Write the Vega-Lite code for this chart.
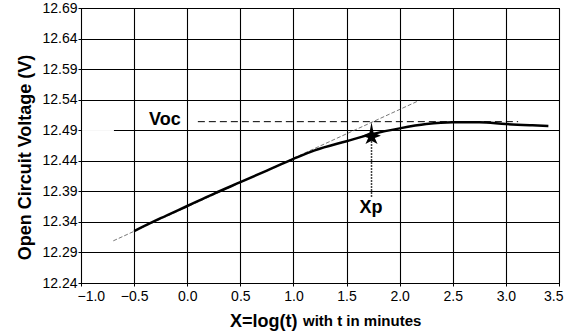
{
  "$schema": "https://vega.github.io/schema/vega-lite/v6.json",
  "width": 478,
  "height": 275,
  "autosize": "none",
  "padding": {"left": 81, "top": 8, "right": 6, "bottom": 51},
  "background": "white",
  "config": {
    "view": {"stroke": "black", "strokeWidth": 1},
    "font": "Liberation Sans",
    "axis": {
      "labelFont": "Liberation Sans",
      "titleFont": "Liberation Sans",
      "labelColor": "black",
      "titleColor": "black",
      "domainColor": "black",
      "tickColor": "black",
      "gridColor": "black",
      "gridOpacity": 1,
      "gridWidth": 1.1,
      "tickSize": 3,
      "labelFontSize": 14,
      "labelFontWeight": "normal"
    }
  },
  "datasets": {
    "curve": [
      {"x": -0.5, "y": 12.325},
      {"x": -0.25, "y": 12.346},
      {"x": 0.0, "y": 12.366},
      {"x": 0.25, "y": 12.386},
      {"x": 0.5, "y": 12.405},
      {"x": 0.75, "y": 12.424},
      {"x": 1.0, "y": 12.443},
      {"x": 1.2, "y": 12.457},
      {"x": 1.5, "y": 12.472},
      {"x": 1.75, "y": 12.484},
      {"x": 2.0, "y": 12.493},
      {"x": 2.25, "y": 12.5},
      {"x": 2.5, "y": 12.503},
      {"x": 2.75, "y": 12.503},
      {"x": 3.0, "y": 12.5},
      {"x": 3.25, "y": 12.498},
      {"x": 3.4, "y": 12.497}
    ],
    "tangent": [
      {"x": -0.696, "y": 12.309},
      {"x": 2.176, "y": 12.538}
    ],
    "voc": [{"x": 0.1, "x2": 3.115, "y": 12.504}],
    "drop": [{"x": 1.735, "y": 12.381, "y2": 12.49}],
    "star": [{"x": 1.735, "y": 12.4855}],
    "mask": [{"x": -0.99, "x2": -0.69, "y": 12.49}],
    "labels": [
      {"x": -0.21, "y": 12.4985, "text": "Voc"},
      {"x": 1.73, "y": 12.354, "text": "Xp"}
    ],
    "subtitle": [{"x": 1.09, "y": 12.1696, "text": "with t in minutes"}]
  },
  "encoding": {
    "x": {
      "field": "x",
      "type": "quantitative",
      "scale": {"domain": [-1, 3.5], "nice": false, "zero": false},
      "axis": {
        "values": [-1, -0.5, 0, 0.5, 1, 1.5, 2, 2.5, 3, 3.5],
        "format": ".1f",
        "grid": true,
        "labelPadding": 3,
        "labelFlush": true,
        "labelFlushOffset": 4,
        "title": "X=log(t)",
        "titleFontSize": 18,
        "titleFontWeight": "bold",
        "titleAlign": "right",
        "titleBaseline": "alphabetic",
        "titleX": 216,
        "titleY": 43,
        "titleAnchor": null
      }
    },
    "y": {
      "field": "y",
      "type": "quantitative",
      "scale": {"domain": [12.24, 12.69], "nice": false, "zero": false},
      "axis": {
        "values": [12.24, 12.29, 12.34, 12.39, 12.44, 12.49, 12.54, 12.59, 12.64, 12.69],
        "format": ".2f",
        "grid": true,
        "labelPadding": 1,
        "title": "Open Circuit Voltage (V)",
        "titleFontSize": 18,
        "titleFontWeight": "bold",
        "titleAngle": -90,
        "titleAlign": "center",
        "titleBaseline": "middle",
        "titleX": -56,
        "titleY": 149
      }
    }
  },
  "layer": [
    {
      "data": {"name": "mask"},
      "mark": {"type": "rule", "color": "white", "strokeWidth": 1.5},
      "encoding": {"x2": {"field": "x2"}}
    },
    {
      "data": {"name": "tangent"},
      "mark": {"type": "line", "color": "#555", "strokeWidth": 0.8, "strokeDash": [4, 2]}
    },
    {
      "data": {"name": "voc"},
      "mark": {"type": "rule", "color": "black", "strokeWidth": 1, "strokeDash": [7, 4]},
      "encoding": {"x2": {"field": "x2"}}
    },
    {
      "data": {"name": "curve"},
      "mark": {"type": "line", "color": "black", "strokeWidth": 2.5, "interpolate": "monotone"}
    },
    {
      "data": {"name": "drop"},
      "mark": {"type": "rule", "color": "black", "strokeWidth": 1.5, "strokeDash": [1.5, 1.5]},
      "encoding": {"y2": {"field": "y2"}}
    },
    {
      "data": {"name": "star"},
      "mark": {
        "type": "point",
        "filled": true,
        "color": "black",
        "opacity": 1,
        "size": 484,
        "shape": "M0,-1 L0.18,-0.05 L0.85,0.25 L0.3,0.45 L0.55,1 L0,0.7 L-0.55,1 L-0.3,0.45 L-0.85,0.25 L-0.18,-0.05 Z"
      }
    },
    {
      "data": {"name": "labels"},
      "mark": {"type": "text", "font": "Liberation Sans", "fontSize": 18, "fontWeight": "bold", "color": "black", "align": "center", "baseline": "alphabetic"},
      "encoding": {"text": {"field": "text"}}
    },
    {
      "data": {"name": "subtitle"},
      "mark": {"type": "text", "font": "Liberation Sans", "fontSize": 15, "fontWeight": "bold", "color": "black", "align": "left", "baseline": "alphabetic", "clip": false},
      "encoding": {"text": {"field": "text"}}
    }
  ]
}
